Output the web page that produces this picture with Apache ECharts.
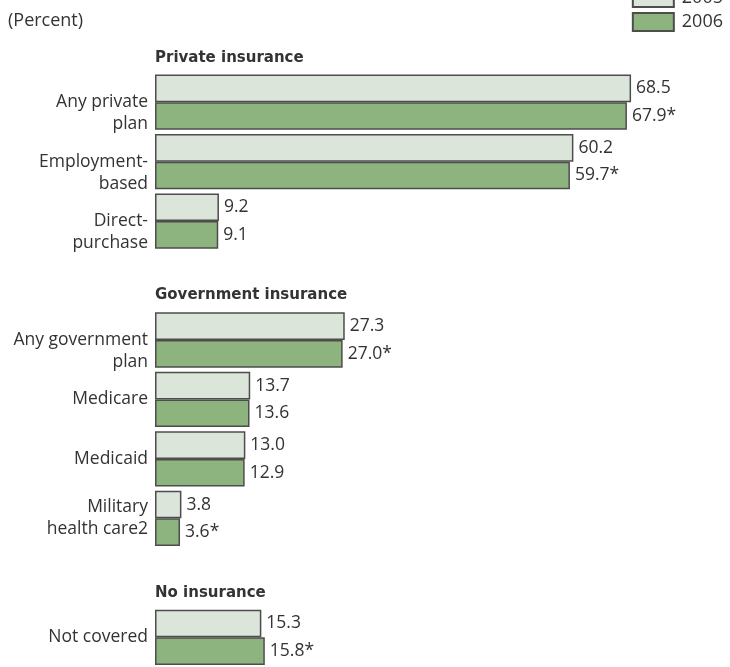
<!DOCTYPE html>
<html><head><meta charset="utf-8">
<script src="https://cdn.jsdelivr.net/npm/echarts@6/dist/echarts.min.js"></script>
<style>html,body{margin:0;padding:0;background:#fff}#c{width:730px;height:667px}</style>
</head><body><div id="c"></div>
<script>
// Data
var categories = [' ', 'Any private\nplan', 'Employment-\nbased', 'Direct-\npurchase', '  ', 'Any government\nplan', 'Medicare', 'Medicaid', 'Military\nhealth care2', '   ', 'Not covered'];
var values2005 = ['-', 68.5, 60.2, 9.2, '-', 27.3, 13.7, 13.0, 3.8, '-', 15.3];
var values2006 = ['-', 67.9, 59.7, 9.1, '-', 27.0, 13.6, 12.9, 3.6, '-', 15.8];
var signif2006 = [false, true, true, false, false, true, false, false, true, false, true];
var lowLabel = [false, true, true, true, false, true, false, false, false, false, false];
var headers = [{slot: 0, text: 'Private insurance'}, {slot: 4, text: 'Government insurance'}, {slot: 9, text: 'No insurance'}];
var seriesNames = ['2005', '2006'];

var font = '"Open Sans", sans-serif';
var chart = echarts.init(document.getElementById('c'));
var border = '#4d4d4d';
chart.setOption({
  animation: false,
  backgroundColor: '#fff',
  grid: {left: 155, right: 19, top: 13, bottom: -6, containLabel: false},
  legend: {
    orient: 'vertical', right: 2, top: -17, itemWidth: 41, itemHeight: 18, itemGap: 4, icon: 'rect',
    textStyle: {fontFamily: font, fontSize: 18, color: '#333', padding: [0, 0, 0, 3]},
    data: seriesNames
  },
  xAxis: {type: 'value', min: 0, max: 80, show: false},
  yAxis: {
    type: 'category', inverse: true, data: categories,
    axisLine: {show: false}, axisTick: {show: false},
    axisLabel: {fontFamily: font, fontSize: 17.5, color: '#333', margin: 7, lineHeight: 22, align: 'right',
      formatter: function (v, i) { return lowLabel[i] ? '\n' + v : v; }}
  },
  series: [
    {
      name: seriesNames[0], type: 'bar', data: values2005, barGap: '0%', barCategoryGap: '7%',
      itemStyle: {color: '#dbe5da', borderColor: border, borderWidth: 1.5},
      label: {show: true, position: 'right', distance: 5, fontFamily: font, fontSize: 17.5, color: '#333',
        formatter: function (p) { return p.value.toFixed(1); }}
    },
    {
      name: seriesNames[1], type: 'bar', data: values2006,
      itemStyle: {color: '#8db37f', borderColor: border, borderWidth: 1.5},
      label: {show: true, position: 'right', distance: 5, fontFamily: font, fontSize: 17.5, color: '#333',
        formatter: function (p) { return p.value.toFixed(1) + (signif2006[p.dataIndex] ? '*' : ''); }}
    }
  ]
});
// Section headers placed via axis scale
var g = [{type: 'text', left: 8, top: 12, style: {text: '(Percent)', font: '18px ' + font, fill: '#333'}}];
headers.forEach(function (h) {
  var y = chart.convertToPixel({yAxisIndex: 0}, h.slot);
  var x = chart.convertToPixel({xAxisIndex: 0}, 0);
  g.push({type: 'text', x: x, y: y + 15, style: {text: h.text, font: 'bold 15px "DejaVu Sans", sans-serif', fill: '#333', textVerticalAlign: 'middle'}});
});
chart.setOption({graphic: g}, {replaceMerge: ['graphic']});
</script></body></html>
